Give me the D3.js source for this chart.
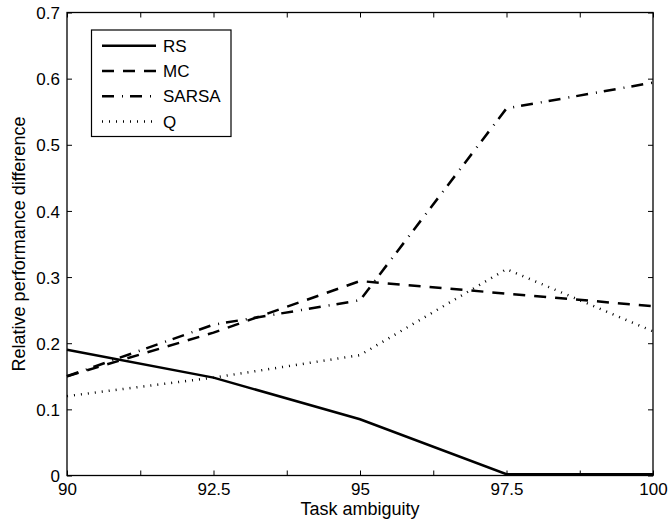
<!DOCTYPE html>
<html><head><meta charset="utf-8">
<script src="https://cdn.jsdelivr.net/npm/d3@7"></script>
<style>body{margin:0;background:#fff}svg{display:block}text{font-family:"Liberation Sans",Arial,sans-serif;fill:#000}</style>
</head><body>
<svg id="c" width="668" height="522"></svg>
<script>
const xValues = [90, 92.5, 95, 97.5, 100];
const seriesNames = ["RS", "MC", "SARSA", "Q"];
const rsValues = [0.19, 0.148, 0.085, 0.002, 0.002];
const mcValues = [0.15, 0.216, 0.294, 0.275, 0.256];
const sarsaValues = [0.15, 0.228, 0.265, 0.555, 0.594];
const qValues = [0.12, 0.148, 0.182, 0.312, 0.218];
const xTicks = [90, 91.25, 92.5, 93.75, 95, 96.25, 97.5, 98.75, 100];
const xTickLabels = ["90", "", "92.5", "", "95", "", "97.5", "", "100"];
const yTicks = [0, 0.1, 0.2, 0.3, 0.4, 0.5, 0.6, 0.7];

const dashes = ["none", "12,9", "12,8,1,7", "1,6"];
const series = [rsValues, mcValues, sarsaValues, qValues];
const FS = "17px";
const LFS = "18px";

const L = 67, R = 653, T = 12.5, B = 475.5;
const svg = d3.select("#c");
const x = d3.scaleLinear().domain([90, 100]).range([L, R]);
const y = d3.scaleLinear().domain([0, 0.7]).range([B, T]);

const tl = 5;
const xb = d3.axisBottom(x).tickValues(xTicks).tickSizeInner(-tl).tickSizeOuter(0)
  .tickFormat((d,i) => xTickLabels[i]);
const ax = svg.append("g").attr("transform", `translate(0,${B})`).call(xb);
const xt = d3.axisTop(x).tickValues(xTicks).tickSizeInner(-tl).tickSizeOuter(0).tickFormat("");
svg.append("g").attr("transform", `translate(0,${T})`).call(xt);
const yl = d3.axisLeft(y).tickValues(yTicks).tickSizeInner(-tl).tickSizeOuter(0)
  .tickFormat(d => d === 0 ? "0" : d3.format(".1f")(d));
const ay = svg.append("g").attr("transform", `translate(${L},0)`).call(yl);
const yr = d3.axisRight(y).tickValues(yTicks).tickSizeInner(-tl).tickSizeOuter(0).tickFormat("");
svg.append("g").attr("transform", `translate(${R},0)`).call(yr);
svg.selectAll(".domain").remove();
svg.selectAll(".tick line").attr("stroke", "#000").attr("stroke-width", 1);
svg.selectAll(".tick text").style("font-size", FS).style("font-family", '"Liberation Sans",Arial,sans-serif');
ax.selectAll(".tick text").attr("y", 7).attr("dy", "0.71em");
ay.selectAll(".tick text").attr("x", -7).attr("dy", "0.36em");

svg.append("rect").attr("x", L).attr("y", T).attr("width", R - L).attr("height", B - T)
  .attr("fill", "none").attr("stroke", "#000").attr("stroke-width", 1.3);

const line = d3.line().x((d, i) => x(xValues[i])).y(d => y(d));
series.forEach((s, k) => {
  svg.append("path").datum(s).attr("d", line).attr("fill", "none")
    .attr("stroke", "#000").attr("stroke-width", 2.5)
    .attr("stroke-dasharray", dashes[k]);
});

const lg = svg.append("g");
lg.append("rect").attr("x", 91.5).attr("y", 30).attr("width", 139.5).attr("height", 106.5)
  .attr("fill", "#fff").attr("stroke", "#000").attr("stroke-width", 1.2);
seriesNames.forEach((n, k) => {
  const yy = 45.7 + k * 25.3;
  lg.append("line").attr("x1", 102).attr("x2", 156).attr("y1", yy).attr("y2", yy)
    .attr("stroke", "#000").attr("stroke-width", 2.5).attr("stroke-dasharray", dashes[k]);
  lg.append("text").attr("x", 163).attr("y", yy).attr("dy", "0.36em").style("font-size", FS).text(n);
});

svg.append("text").attr("x", (L + R) / 2).attr("y", 515).attr("text-anchor", "middle")
  .style("font-size", LFS).text("Task ambiguity");
svg.append("text").attr("transform", `translate(25,${(T + B) / 2}) rotate(-90)`).attr("text-anchor", "middle")
  .style("font-size", LFS).text("Relative performance difference");
</script>
</body></html>
